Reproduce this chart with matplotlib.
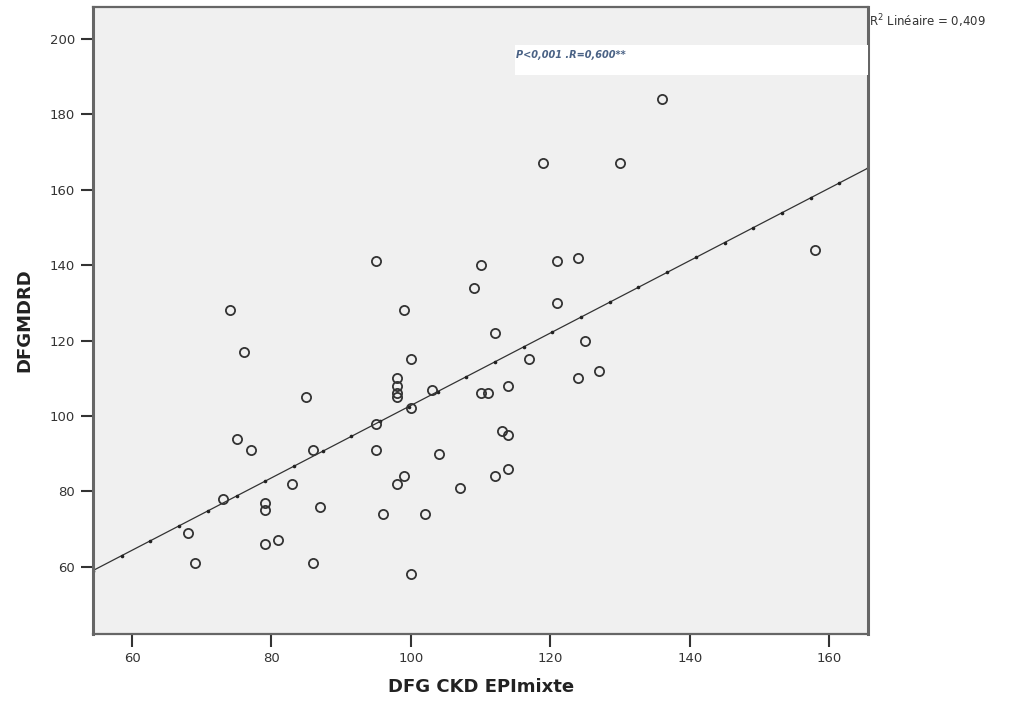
"""Scatter of DFGMDRD against DFG CKD EPImixte with linear fit (SPSS style)."""

import matplotlib

matplotlib.use("Agg")
import matplotlib.pyplot as plt
import numpy as np
from matplotlib.patches import Rectangle


DFG_CKD = [
    136, 119, 130, 158, 95, 110, 121, 124, 109, 74,
    99, 121, 76, 100, 112, 117, 125, 124, 127, 98,
    98, 98, 98, 85, 103, 114, 110, 111, 100, 95,
    75, 77, 86, 95, 104, 113, 114, 114, 99, 98,
    83, 107, 112, 73, 79, 79, 87, 96, 102, 68,
    79, 81, 69, 86, 100,
]
DFG_MDRD = [
    184, 167, 167, 144, 141, 140, 141, 142, 134, 128,
    128, 130, 117, 115, 122, 115, 120, 110, 112, 110,
    108, 106, 105, 105, 107, 108, 106, 106, 102, 98,
    94, 91, 91, 91, 90, 96, 95, 86, 84, 82,
    82, 81, 84, 78, 77, 75, 76, 74, 74, 69,
    66, 67, 61, 61, 58,
]
# fit line
FIT_INTERCEPT = 6.8
FIT_SLOPE = 0.96
X_LIMITS = (54.4, 165.6)
Y_LIMITS = (42.2, 208.5)
X_TICKS = [60, 80, 100, 120, 140, 160]
Y_TICKS = [60, 80, 100, 120, 140, 160, 180, 200]


def main():
    fig = plt.figure(figsize=(10.28, 7.03), dpi=100)
    ax = fig.add_axes([0.0905, 0.0982, 0.754, 0.892])
    ax.set_facecolor("#f0f0f0")

    line_x = np.array(X_LIMITS)
    ax.plot(line_x, FIT_INTERCEPT + FIT_SLOPE * line_x, color="#333333",
            lw=0.9, zorder=2)
    dots_x = np.linspace(X_LIMITS[0], X_LIMITS[1], 28)
    ax.plot(dots_x, FIT_INTERCEPT + FIT_SLOPE * dots_x, ls="none", marker="o",
            ms=1.6, color="#222222", zorder=2)

    ax.plot(DFG_CKD, DFG_MDRD, ls="none", marker="o", ms=6.6, mfc="none",
            mec="#333333", mew=1.3, zorder=3)

    ax.set_xlim(*X_LIMITS)
    ax.set_ylim(*Y_LIMITS)
    ax.set_xticks(X_TICKS)
    ax.set_yticks(Y_TICKS)
    ax.tick_params(axis="both", direction="out", length=9, width=1.5,
                   color="#333333", labelsize=9.5, labelcolor="#333333", pad=4)

    for side in ["left", "bottom", "top", "right"]:
        ax.spines[side].set_color("#666666")
    ax.spines["left"].set_linewidth(2.2)
    ax.spines["right"].set_linewidth(2.2)
    ax.spines["top"].set_linewidth(1.6)
    ax.spines["bottom"].set_linewidth(1.6)

    ax.set_xlabel("DFG CKD EPImixte", fontsize=13, fontweight="bold",
                  color="#222222", labelpad=9)
    ax.set_ylabel("DFGMDRD", fontsize=13, fontweight="bold",
                  color="#222222", labelpad=12)

    # white note box with the correlation result
    ax.add_patch(Rectangle((0.5443, 0.8915), 0.4557, 0.048, transform=ax.transAxes,
                           facecolor="white", edgecolor="none", zorder=4))
    ax.text(0.546, 0.923, "P<0,001 .R=0,600**", transform=ax.transAxes,
            fontsize=7, fontstyle="italic", fontweight="bold", color="#4a6285",
            va="center", ha="left", zorder=5)

    fig.text(0.845, 0.97, "R$^2$ Linéaire = 0,409", fontsize=8.5,
             color="#333333", ha="left", va="center")

    fig.savefig("out.png", dpi=100, facecolor="white")
    plt.close(fig)


if __name__ == "__main__":
    main()
